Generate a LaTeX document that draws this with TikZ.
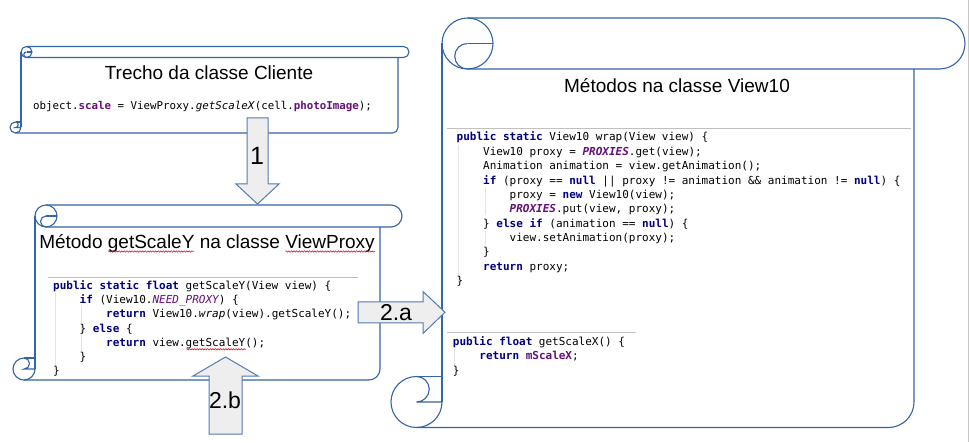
\documentclass[tikz,border=0pt]{standalone}
\usepackage{fontspec}
\setmainfont{Liberation Sans}
\newfontfamily\codefont{DejaVu Sans Mono}
\usetikzlibrary{calc,decorations.pathmorphing}
\definecolor{scrollblue}{HTML}{3465A4}
\definecolor{arrowfill}{HTML}{EEEEEE}
\definecolor{kwcol}{HTML}{000080}
\definecolor{fldcol}{HTML}{660E7A}
\definecolor{rulecol}{HTML}{C0C0C0}
\definecolor{guidecol}{HTML}{E4E4E4}
\newcommand\kw[1]{\textcolor{kwcol}{\bfseries #1}}
\newcommand\fld[1]{\textcolor{fldcol}{\bfseries #1}}
\newcommand\sfb[1]{\textcolor{fldcol}{\bfseries\itshape #1}}
\newcommand\sfi[1]{\textcolor{fldcol}{\itshape #1}}
\newcommand\hscroll[5]{%
  \pgfmathsetmacro\sL{#1}\pgfmathsetmacro\sT{#2}%
  \pgfmathsetmacro\sR{#3}\pgfmathsetmacro\sB{#4}%
  \pgfmathsetmacro\sc{#5}\pgfmathsetmacro\sh{#5/2}\pgfmathsetmacro\sq{#5/4}%
  \draw[scrollline] (\sL+\sc+\sh,\sT) -- (\sR-\sh,\sT) arc[start angle=-90,end angle=90,radius=\sh] -- (\sL+\sc+\sh,\sT+\sc);
  \draw[scrollline] (\sL+\sc+\sh,\sT+\sh) circle[radius=\sh];
  \draw[scrollline] (\sL+\sc+\sh,\sT+\sh) -- (\sL+\sc+\sc,\sT+\sh);
  \draw[scrollline] (\sL+\sc+\sh,\sT+\sh) arc[start angle=270,end angle=90,radius=\sq];
  \draw[scrollline] (\sL+\sc,\sT+\sh) -- (\sL+\sc,\sB-\sh);
  \draw[scrollline] (\sL+\sc,\sB-\sh) arc[start angle=0,end angle=270,radius=\sh] arc[start angle=-90,end angle=90,radius=\sq] -- (\sL+\sc,\sB-\sh);
  \draw[scrollline] (\sL+\sh,\sB-\sc) -- (\sL+\sc,\sB-\sc);
  \draw[scrollline] (\sL+\sh,\sB) -- (\sR-\sc-\sh,\sB) arc[start angle=90,end angle=0,radius=\sh] -- (\sR-\sc,\sT+\sc);
}
\tikzset{
  scrollline/.style={draw=scrollblue, line width=1.1pt},
  blockarrow/.style={draw=scrollblue!85, fill=arrowfill, line width=1pt, line join=miter},
  titletext/.style={anchor=base, inner sep=0pt, font=\fontsize{19}{22}\selectfont},
  arrowlabel/.style={inner sep=0pt, font=\fontsize{23}{26}\selectfont},
  codeline/.style={anchor=base west, inner sep=0pt, font=\codefont\fontsize{11}{13}\selectfont\frenchspacing},
  codesmall/.style={anchor=base west, inner sep=0pt, font=\codefont\fontsize{10.8}{13}\selectfont\frenchspacing},
  coderule/.style={draw=rulecol, line width=0.8pt},
  guide/.style={draw=guidecol, line width=0.8pt},
  squiggle/.style={draw=red!85!black, line width=0.5pt, decorate, decoration={snake, amplitude=0.7pt, segment length=2.6pt}}
}
\begin{document}
\begin{tikzpicture}[x=1pt,y=1pt]
\begin{scope}[shift={(0,442)}, yscale=-1]
\useasboundingbox (0,0) rectangle (969,442);
\fill[white] (0,0) rectangle (969,442);
\draw[gray!45, line width=1pt] (968,0) -- (968,442);

% ---------- scrolls ----------
\hscroll{10}{46.5}{409}{133}{11}
\hscroll{13}{205}{402}{380}{22}
\hscroll{391}{18}{965}{427.5}{51}

% ---------- scroll 1 ----------
\node[titletext] (title1) at (209,79.3) {Trecho da classe Cliente};
\node[codesmall] (c1) at (33,110) {object.\fld{scale} = ViewProxy.\textit{getScaleX}(cell.\fld{photoImage});};

% ---------- scroll 2 ----------
\node[titletext] (title2) at (207,248.3) {Método getScaleY na classe ViewProxy};
\draw[squiggle] (108,251.5) -- (194,251.5);
\draw[squiggle] (285.5,251.5) -- (375,251.5);
\draw[coderule] (48,277) -- (358,277);
\draw[guide] (55,293) -- (55,366);
\draw[guide] (81,306) -- (81,352);
\node[codeline] (p0) at (53,289.5) {\kw{public} \kw{static} \kw{float} getScaleY(View view) \{};
\node[codeline] (p1) at (79.5,303.7) {\kw{if} (View10.\sfi{NEED\_PROXY}) \{};
\node[codeline] (p2) at (106,317.9) {\kw{return} View10.\textit{wrap}(view).getScaleY();};
\node[codeline] (p3) at (79.5,332.1) {\} \kw{else} \{};
\node[codeline] (p4) at (106,346.3) {\kw{return} view.getScaleY();};
\draw[squiggle] (186,349.3) -- (246,349.3);
\node[codeline] (p5) at (79.5,360.5) {\}};
\node[codeline] (p6) at (53,374.7) {\}};

% ---------- scroll 3 ----------
\node[titletext] (title3) at (677,93) {Métodos na classe View10};
\draw[coderule] (447,128.5) -- (911,128.5);
\draw[guide] (458.5,145) -- (458.5,283);
\draw[guide] (485,188) -- (485,215);
\draw[guide] (485,231) -- (485,244);
\node[codeline] (w0) at (456.5,141) {\kw{public} \kw{static} View10 wrap(View view) \{};
\node[codeline] (w1) at (483,155.35) {View10 proxy = \sfb{PROXIES}.get(view);};
\node[codeline] (w2) at (483,169.7) {Animation animation = view.getAnimation();};
\node[codeline] (w3) at (483,184.05) {\kw{if} (proxy == \kw{null} || proxy != animation \&\& animation != \kw{null}) \{};
\node[codeline] (w4) at (509.5,198.4) {proxy = \kw{new} View10(view);};
\node[codeline] (w5) at (509.5,212.75) {\sfb{PROXIES}.put(view, proxy);};
\node[codeline] (w6) at (483,227.1) {\} \kw{else} \kw{if} (animation == \kw{null}) \{};
\node[codeline] (w7) at (509.5,241.45) {view.setAnimation(proxy);};
\node[codeline] (w8) at (483,255.8) {\}};
\node[codeline] (w9) at (483,270.15) {\kw{return} proxy;};
\node[codeline] (w10) at (456.5,284.5) {\}};

\draw[coderule] (447,332.3) -- (636,332.3);
\draw[guide] (454.5,349) -- (454.5,366);
\node[codeline] (g0) at (452.7,345.7) {\kw{public} \kw{float} getScaleX() \{};
\node[codeline] (g1) at (479.2,359.9) {\kw{return} \fld{mScaleX};};
\node[codeline] (g2) at (452.7,374.1) {\}};

% ---------- block arrows ----------
\coordinate (a1tail) at (257.5,118);
\coordinate (a2tail) at (358,312.5);
\coordinate (a3tail) at (225.5,434);
\draw[blockarrow] ($(a1tail)+(-10.5,0)$) -- ++(21,0) -- ++(0,66) -- ++(11,0) -- ++(-21.5,20) -- ++(-21.5,-20) -- ++(11,0) -- cycle;
\draw[blockarrow] ($(a2tail)+(0,-10.5)$) -- ++(65,0) -- ++(0,-10.5) -- ++(22,20.8) -- ++(-22,21.2) -- ++(0,-10.5) -- ++(-65,0) -- cycle;
\draw[blockarrow] ($(a3tail)+(-16.5,0)$) -- ++(0,-58) -- ++(-16,0) -- ++(32.5,-19) -- ++(32.5,19) -- ++(-16,0) -- ++(0,58) -- cycle;
\node[arrowlabel, font=\fontsize{25}{28}\selectfont] (l1) at (257,156) {1};
\node[arrowlabel] (l2a) at (396,313) {2.a};
\node[arrowlabel] (l2b) at (225,400) {2.b};
\end{scope}
\end{tikzpicture}
\end{document}
